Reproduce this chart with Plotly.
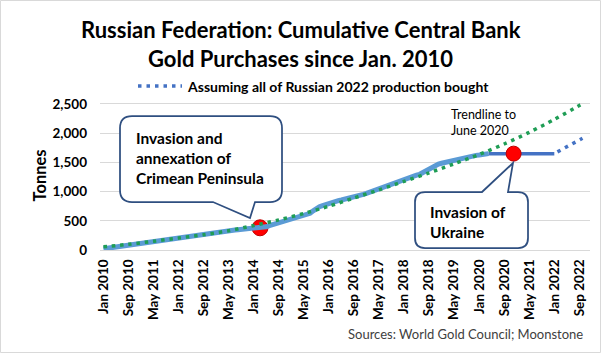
import plotly.graph_objects as go

# ---------------- data ----------------
month_names = ["Jan", "Feb", "Mar", "Apr", "May", "Jun", "Jul", "Aug", "Sep", "Oct", "Nov", "Dec"]
years = list(range(2010, 2023))
categories = [f"{m} {y}" for y in years for m in month_names][:154]  # Jan 2010 .. Oct 2022

# cumulative central bank purchases (tonnes), Jan 2010 .. Apr 2020
purchases = [
    20, 28, 37, 45, 55, 63, 72, 80, 88, 97, 105, 112,
    118, 125, 131, 138, 145, 152, 158, 165, 172, 180, 188, 195,
    200, 205, 212, 220, 228, 236, 244, 252, 262, 272, 285, 298,
    305, 313, 320, 327, 333, 338, 343, 348, 353, 357, 361, 365,
    368, 372, 376, 386, 398, 418, 433, 450, 470, 490, 507, 525,
    540, 557, 574, 588, 602, 615, 628, 670, 713, 740, 760, 780,
    795, 812, 829, 846, 856, 867, 880, 895, 910, 925, 940, 953,
    970, 990, 1015, 1040, 1062, 1084, 1100, 1117, 1135, 1155, 1176, 1198,
    1215, 1232, 1250, 1266, 1281, 1296, 1325, 1355, 1398, 1420, 1455, 1470,
    1485, 1498, 1512, 1527, 1541, 1556, 1570, 1584, 1598, 1606, 1613, 1620,
    1626, 1636, 1645, 1650,
]
# no purchases: Apr 2020 .. Jan 2022
paused = [1650, 1650, 1650, 1650, 1650, 1650, 1650, 1650, 1650, 1650, 1650,
          1650, 1650, 1650, 1650, 1650, 1650, 1650, 1650, 1650, 1650, 1650]
# assuming all of Russian 2022 production bought: Feb 2022 .. Oct 2022
production_2022 = [1680, 1709, 1738, 1767, 1796, 1825, 1854, 1883, 1912]
# trendline (fitted to June 2020), read every 8 months + final month
trend_months = categories[0:153:8] + ["Oct 2022"]
trend_values = [55, 97, 150, 205, 262, 330, 420, 515, 625, 750, 890, 1030,
                1175, 1320, 1475, 1635, 1815, 2015, 2235, 2475, 2503]
# event markers
crimea_month, crimea_value = ["Mar 2014"], [380]
ukraine_month, ukraine_value = ["Dec 2020"], [1650]

tick_labels = categories[0:153:8]
y_ticks = [0, 500, 1000, 1500, 2000, 2500]

# ---------------- layout helpers ----------------
L, T, PW, PH = 100, 101, 490, 149
FONT = "Lato"


def X(px):
    return (px - L) / PW


def Y(py):
    return (T + PH - py) / PH


def rounded_callout(l, t, r, b, rad, side, p1, p2, tip):
    if side == "bottom":
        d = (f"M{X(l+rad)},{Y(t)} L{X(r-rad)},{Y(t)} Q{X(r)},{Y(t)} {X(r)},{Y(t+rad)} "
             f"L{X(r)},{Y(b-rad)} Q{X(r)},{Y(b)} {X(r-rad)},{Y(b)} "
             f"L{X(p2)},{Y(b)} L{X(tip[0])},{Y(tip[1])} L{X(p1)},{Y(b)} "
             f"L{X(l+rad)},{Y(b)} Q{X(l)},{Y(b)} {X(l)},{Y(b-rad)} "
             f"L{X(l)},{Y(t+rad)} Q{X(l)},{Y(t)} {X(l+rad)},{Y(t)} Z")
    else:
        d = (f"M{X(l+rad)},{Y(t)} L{X(p1)},{Y(t)} L{X(tip[0])},{Y(tip[1])} L{X(p2)},{Y(t)} "
             f"L{X(r-rad)},{Y(t)} Q{X(r)},{Y(t)} {X(r)},{Y(t+rad)} "
             f"L{X(r)},{Y(b-rad)} Q{X(r)},{Y(b)} {X(r-rad)},{Y(b)} "
             f"L{X(l+rad)},{Y(b)} Q{X(l)},{Y(b)} {X(l)},{Y(b-rad)} "
             f"L{X(l)},{Y(t+rad)} Q{X(l)},{Y(t)} {X(l+rad)},{Y(t)} Z")
    return d


fig = go.Figure()

fig.add_trace(go.Scatter(x=crimea_month, y=crimea_value, mode="markers",
                         marker=dict(size=16, color="#FF0000", line=dict(color="#C00000", width=1)),
                         showlegend=False, hoverinfo="skip"))
fig.add_trace(go.Scatter(x=categories[:len(purchases)], y=purchases, mode="lines",
                         line=dict(color="#5B9BD5", width=5), showlegend=False))
fig.add_trace(go.Scatter(x=categories[123:123 + len(paused)], y=paused, mode="lines",
                         line=dict(color="#4472C4", width=3.5), showlegend=False))
fig.add_trace(go.Scatter(x=categories[145:145 + len(production_2022)], y=production_2022, mode="lines",
                         line=dict(color="#4472C4", width=3.5, dash="3.5px,5px"),
                         name="Assuming all of Russian 2022 production bought", showlegend=False))
fig.add_trace(go.Scatter(x=trend_months, y=trend_values, mode="lines",
                         line=dict(color="#1F9D55", width=3.5, dash="3.5px,4.8px", shape="spline", smoothing=0.8),
                         showlegend=False))
fig.add_trace(go.Scatter(x=ukraine_month, y=ukraine_value, mode="markers",
                         marker=dict(size=15, color="#FF0000", line=dict(color="#C00000", width=1)),
                         showlegend=False, hoverinfo="skip"))

border_col = "#2F4F80"
shapes = [
    dict(type="rect", xref="paper", yref="paper", x0=X(0.5), x1=X(600.5), y0=Y(0.5), y1=Y(352.5),
         line=dict(color="#D9D9D9", width=1), fillcolor="rgba(0,0,0,0)", layer="below"),
    dict(type="path", xref="paper", yref="paper",
         path=rounded_callout(120, 116, 282, 202, 12, "bottom", 213, 255, (250, 218)),
         line=dict(color=border_col, width=1.75), fillcolor="white", layer="above"),
    dict(type="path", xref="paper", yref="paper",
         path=rounded_callout(415, 192, 528, 248, 10, "top", 482, 508, (513, 163)),
         line=dict(color=border_col, width=1.75), fillcolor="white", layer="above"),
    dict(type="line", xref="paper", yref="paper", x0=X(138), x1=X(182), y0=Y(86), y1=Y(86),
         line=dict(color="#4472C4", width=3.5, dash="3.5px,5px")),
]

annotations = [
    dict(text="<b>Russian Federation: Cumulative Central Bank</b>", x=X(300.5), y=Y(29), xref="paper", yref="paper",
         xanchor="center", yanchor="middle", showarrow=False, font=dict(family=FONT, size=22, color="#000000")),
    dict(text="<b>Gold Purchases since Jan. 2010</b>", x=X(300.5), y=Y(58), xref="paper", yref="paper",
         xanchor="center", yanchor="middle", showarrow=False, font=dict(family=FONT, size=22, color="#000000")),
    dict(text="<b>Assuming all of Russian 2022 production bought</b>", x=X(185), y=Y(86), xref="paper", yref="paper",
         xanchor="left", yanchor="middle", showarrow=False, font=dict(family=FONT, size=14, color="#000000")),
    dict(text="<b>Tonnes</b>", x=X(39), y=0.5, xref="paper", yref="paper", textangle=-90,
         xanchor="center", yanchor="middle", showarrow=False, font=dict(family=FONT, size=16.5, color="#000000")),
    dict(text="<b>Invasion and<br>annexation of<br>Crimean Peninsula</b>", x=X(134), y=Y(158), xref="paper",
         yref="paper", xanchor="left", yanchor="middle", align="left", showarrow=False,
         font=dict(family=FONT, size=15.5, color="#000000")),
    dict(text="<b>Invasion of<br>Ukraine</b>", x=X(428), y=Y(222), xref="paper", yref="paper",
         xanchor="left", yanchor="middle", align="left", showarrow=False,
         font=dict(family=FONT, size=15.5, color="#000000")),
    dict(text="Trendline to<br>June 2020", x=X(449), y=Y(122), xref="paper", yref="paper",
         xanchor="left", yanchor="middle", align="left", showarrow=False,
         font=dict(family=FONT, size=12.5, color="#000000")),
    dict(text="Sources: World Gold Council; Moonstone", x=X(585), y=Y(334), xref="paper", yref="paper",
         xanchor="right", yanchor="middle", showarrow=False,
         font=dict(family=FONT, size=13, color="#404040")),
]

fig.update_layout(
    width=601, height=353,
    margin=dict(l=L, r=601 - L - PW, t=T, b=353 - T - PH),
    paper_bgcolor="white", plot_bgcolor="white",
    shapes=shapes, annotations=annotations,
    font=dict(family=FONT, color="#000000"),
    xaxis=dict(type="category", categoryorder="array", categoryarray=categories,
               range=[-1.1, 155.4], tickmode="array", tickvals=tick_labels,
               ticktext=[f"<b>{t}</b>" for t in tick_labels], tickangle=-90,
               showgrid=False, zeroline=False, showline=True, linecolor="#D9D9D9", linewidth=1,
               ticks="", ticklabelstandoff=3, tickfont=dict(family=FONT, size=13.5, color="#000000")),
    yaxis=dict(range=[0, 2551], tickmode="array", tickvals=y_ticks,
               ticktext=[f"<b>{v:,}</b>" for v in y_ticks],
               showgrid=True, gridcolor="#D9D9D9", gridwidth=1, zeroline=False, showline=False,
               ticks="", ticklabelstandoff=12, tickfont=dict(family=FONT, size=13.5, color="#000000")),
)

fig.write_html("out.html")
